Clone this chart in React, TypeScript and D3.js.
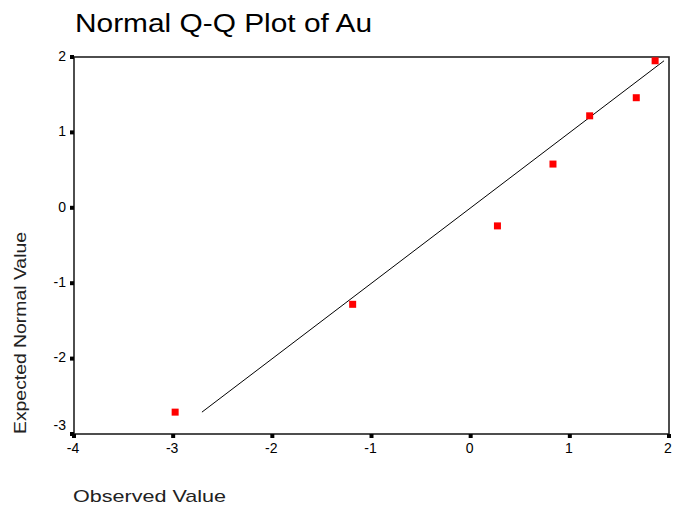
import React from "react";
import * as d3 from "d3";

// Observed values of Au and their expected normal values
const observed = [-2.98, -1.19, 0.27, 0.83, 1.2, 1.67, 1.86];
const expected = [-2.71, -1.28, -0.24, 0.58, 1.22, 1.46, 1.95];
const xTicks = [-4, -3, -2, -1, 0, 1, 2];
const yTicks = [-3, -2, -1, 0, 1, 2];

const W = 682;
const H = 508;
const left = 74;
const right = 669;
const top = 57;
const bottom = 434;

export default function App() {
  const x = d3.scaleLinear().domain([-4, 2]).range([left, right]);
  const y = d3.scaleLinear().domain([-3, 2]).range([bottom, top]);

  // Reference line y = x across the range of expected values
  const lo = d3.min(expected) as number;
  const hi = d3.max(expected) as number;
  const refLine = d3
    .line<number>()
    .x((d) => x(d))
    .y((d) => y(d))([lo, hi]);

  const font = "'Liberation Sans', Arial, sans-serif";
  const mk = 7;

  return (
    <svg
      width={W}
      height={H}
      style={{ position: "absolute", left: 0, top: 0, background: "#fff" }}
      fontFamily={font}
    >
      <rect x={0} y={0} width={W} height={H} fill="#fff" />
      <text x={75} y={32} fontSize={25} textLength={297} lengthAdjust="spacingAndGlyphs" fill="#000">
        Normal Q-Q Plot of Au
      </text>

      {/* plot frame */}
      <rect
        x={left}
        y={top}
        width={right - left}
        height={bottom - top}
        fill="none"
        stroke="#222"
        strokeWidth={1.6}
      />

      {/* y ticks and labels */}
      {yTicks.map((t) => (
        <g key={"y" + t}>
          <rect x={left - 4} y={y(t) - 2} width={4} height={4} fill="#000" />
          <text
            x={66}
            y={t === -3 ? y(t) - 8 : y(t)}
            fontSize={14}
            textAnchor="end"
            dominantBaseline="middle"
            fill="#000"
          >
            {t}
          </text>
        </g>
      ))}

      {/* x ticks and labels */}
      {xTicks.map((t) => (
        <g key={"x" + t}>
          <rect x={x(t) - 2} y={bottom} width={4} height={4} fill="#000" />
          <text x={x(t) - 1} y={453} fontSize={14} textAnchor="middle" fill="#000">
            {t}
          </text>
        </g>
      ))}

      {/* reference line */}
      <path d={refLine ?? ""} fill="none" stroke="#000" strokeWidth={1} />

      {/* points */}
      {observed.map((o, i) => (
        <rect
          key={i}
          x={x(o) - mk / 2}
          y={y(expected[i]) - mk / 2}
          width={mk}
          height={mk}
          fill="#ff0000"
        />
      ))}

      {/* axis titles */}
      <text x={73} y={502} fontSize={17} textLength={153} lengthAdjust="spacingAndGlyphs" fill="#222">
        Observed Value
      </text>
      <text
        transform={`translate(26, ${434}) rotate(-90)`}
        x={0}
        y={0}
        fontSize={17}
        textLength={202}
        lengthAdjust="spacingAndGlyphs"
        fill="#222"
      >
        Expected Normal Value
      </text>
    </svg>
  );
}
